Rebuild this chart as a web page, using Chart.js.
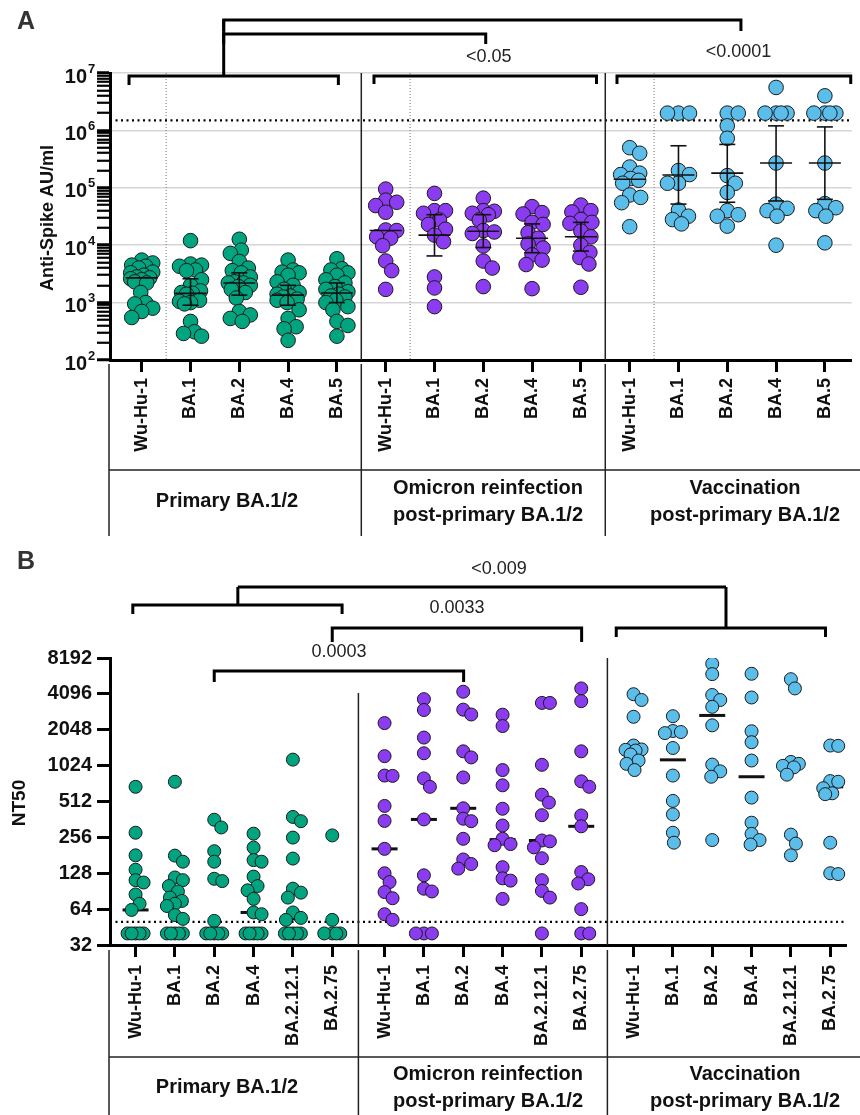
<!DOCTYPE html>
<html>
<head>
<meta charset="utf-8">
<script src="https://cdn.jsdelivr.net/npm/chart.js@4.4.0/dist/chart.umd.min.js"></script>
<style>
    body { margin: 0; background: #fff; }
    #wrap { position: relative; width: 860px; height: 1115px; overflow: hidden; }
    canvas { position: absolute; left: 0; }
</style>
</head>
<body>
<div id="wrap">
    <canvas id="chartA" width="860" height="545" style="top:0"></canvas>
    <canvas id="chartB" width="860" height="570" style="top:545px"></canvas>
</div>
<script>
// Categories
const variantsA = ['Wu-Hu-1', 'BA.1', 'BA.2', 'BA.4', 'BA.5'];
const variantsB = ['Wu-Hu-1', 'BA.1', 'BA.2', 'BA.4', 'BA.2.12.1', 'BA.2.75'];
const cohortLabels = [['Primary BA.1/2'], ['Omicron reinfection', 'post-primary BA.1/2'], ['Vaccination', 'post-primary BA.1/2']];
const cohortColors = ['#00a47f', '#8b3cf0', '#5bbdea'];

// Panel A - Anti-Spike AU/ml, one list per variant
const primaryA = [
    [5500, 4900, 4500, 4300, 4000, 3400, 3300, 3000, 2800, 2700, 2600, 2500, 2300, 2200, 1500, 1000, 950, 800, 700, 550],
    [12000, 4700, 4500, 4300, 3700, 3600, 2500, 2000, 1600, 1500, 1450, 1400, 1100, 1050, 1000, 950, 470, 310, 290, 260],
    [12700, 8200, 7200, 5200, 4000, 3600, 3300, 2800, 2300, 2200, 2200, 2000, 1900, 1700, 1500, 1200, 700, 610, 530, 470],
    [5500, 3700, 3400, 3300, 3000, 2300, 2000, 1700, 1500, 1400, 1300, 1250, 1150, 1100, 1000, 750, 530, 380, 350, 220],
    [5800, 3900, 3700, 3300, 3000, 2500, 2200, 1900, 1700, 1550, 1400, 1300, 1250, 1100, 1000, 850, 750, 470, 400, 260]
];
const reinfectionA = [
    [95000, 61000, 56000, 49000, 37500, 18400, 18000, 14000, 13300, 9800, 5300, 3600, 1700],
    [80000, 40000, 40000, 36000, 27500, 23000, 19000, 15000, 11500, 2800, 1800, 850],
    [66000, 40000, 39000, 36000, 34000, 27500, 18000, 17000, 16000, 9700, 5300, 4000, 1900],
    [47000, 37000, 35000, 25000, 23000, 16500, 13200, 10500, 8900, 6800, 5500, 4600, 1750],
    [50000, 40000, 38000, 28000, 25000, 24000, 17600, 14000, 10000, 7500, 6100, 4700, 1850]
];
const vaccinationA = [
    [500000, 400000, 230000, 180000, 170000, 145000, 135000, 120000, 75000, 68000, 55000, 21000],
    [2000000, 2000000, 2000000, 200000, 170000, 120000, 120000, 41000, 32000, 28000, 23500],
    [2000000, 2000000, 1200000, 730000, 163000, 120000, 83000, 40000, 34000, 32000, 21500],
    [5600000, 2000000, 2000000, 2000000, 2000000, 270000, 52000, 44000, 40000, 32000, 10000],
    [4000000, 2000000, 2000000, 2000000, 2000000, 270000, 53000, 45000, 40000, 32000, 11000]
];
// median and interquartile range, 15 groups in plot order
const medianA = [2700, 1450, 2200, 1350, 1470, 18000, 15000, 17500, 13200, 14000, 141000, 167000, 180000, 270000, 270000];
const q1A = [null, 900, 1350, 900, 1000, null, 6500, 9100, 7400, 7900, null, 52000, 56000, 59000, 63000];
const q3A = [null, 2600, 3300, 2000, 2200, null, 34000, 34000, 23500, 25000, null, 540000, 570000, 1200000, 1150000];

// Panel B - NT50
const primaryB = [
    [680, 280, 181, 137, 112, 107, 85, 71, 63, 40, 40, 40, 40, 40],
    [750, 180, 160, 118, 112, 100, 90, 80, 75, 71, 68, 57, 53, 40, 40, 40, 40, 40],
    [360, 310, 196, 160, 115, 110, 51, 40, 40, 40, 40, 40],
    [275, 210, 165, 160, 120, 100, 92, 78, 60, 58, 40, 40, 40, 40, 40],
    [1150, 380, 350, 255, 170, 95, 88, 80, 60, 54, 52, 40, 40, 40, 40, 40],
    [266, 52, 40, 40, 40, 40]
];
const reinfectionB = [
    [2330, 1230, 845, 840, 470, 352, 205, 128, 108, 89, 79, 58, 52],
    [3700, 3000, 1760, 1300, 800, 680, 362, 123, 95, 90, 40, 40, 40],
    [4270, 3020, 2750, 1350, 1200, 815, 449, 367, 350, 249, 167, 153, 140],
    [2740, 2200, 940, 700, 445, 322, 249, 225, 220, 144, 116, 111, 78],
    [3440, 3440, 1040, 584, 502, 393, 241, 237, 211, 171, 112, 91, 80, 40],
    [4550, 3560, 1350, 756, 680, 391, 317, 131, 114, 105, 64, 40, 40]
];
const vaccinationB = [
    [4070, 3640, 2630, 1510, 1400, 1390, 1370, 1270, 1130, 1060, 940],
    [2660, 2000, 1960, 1920, 1440, 845, 518, 399, 280, 231],
    [7330, 6000, 4010, 3640, 3190, 2230, 1045, 917, 826, 243],
    [6040, 3820, 1990, 1610, 1130, 552, 340, 274, 243, 223],
    [5440, 4550, 1100, 1060, 1020, 990, 860, 270, 227, 181],
    [1510, 1500, 760, 750, 662, 600, 590, 231, 128, 126]
];
const medianB = [63, 71, 40, 60, 53, 40, 205, 362, 449, 245, 241, 317, 1390, 1145, 2700, 826, 1030, 680];

// Axis ticks, cut-offs and p values
const ticksA = [1e2, 1e3, 1e4, 1e5, 1e6, 1e7];
const ticksB = [32, 64, 128, 256, 512, 1024, 2048, 4096, 8192];
const cutoffA = 1.5e6;
const cutoffB = 50;
const pLabelsA = ['<0.05', '<0.0001'];
const pLabelsB = ['<0.009', '0.0033', '0.0003'];

const FONT = "'Liberation Sans', Arial, Helvetica, sans-serif";
const gapB = 0.33;
const posA = (g, i) => g * 5 + i;
const posB = (g, i) => g * (6 + gapB) + i;

function line(ctx, x1, y1, x2, y2) {
    ctx.beginPath();
    ctx.moveTo(x1, y1);
    ctx.lineTo(x2, y2);
    ctx.stroke();
}

function bracket(ctx, x1, x2, y, yEnd) {
    ctx.beginPath();
    ctx.moveTo(x1, yEnd);
    ctx.lineTo(x1, y);
    ctx.lineTo(x2, y);
    ctx.lineTo(x2, yEnd);
    ctx.stroke();
}

function drawTable(ctx, xs, yTop, yLine, yBottom, textY) {
    ctx.save();
    ctx.strokeStyle = '#222';
    ctx.lineWidth = 1.5;
    line(ctx, 109, yLine, 860, yLine);
    [109, ...xs].forEach(px => line(ctx, px, yTop, px, yBottom));
    ctx.fillStyle = '#111';
    ctx.font = 'bold 20px ' + FONT;
    ctx.textAlign = 'center';
    ctx.textBaseline = 'middle';
    const centers = [227, 488, 745];
    cohortLabels.forEach((lines, g) => {
        if (lines.length === 1) {
            ctx.fillText(lines[0], centers[g], textY);
        } else {
            ctx.fillText(lines[0], centers[g], textY - 13);
            ctx.fillText(lines[1], centers[g], textY + 14);
        }
    });
    ctx.restore();
}

function rotatedText(ctx, text, x, y, font) {
    ctx.save();
    ctx.translate(x, y);
    ctx.rotate(-Math.PI / 2);
    ctx.font = font;
    ctx.fillStyle = '#111';
    ctx.textAlign = 'center';
    ctx.textBaseline = 'middle';
    ctx.fillText(text, 0, 0);
    ctx.restore();
}

function buildSets(groups, pos, radius) {
    return groups.map((grp, g) => ({
        data: grp.flatMap((vals, i) => vals.map(v => ({ x: pos(g, i), y: v, c: pos(g, i) }))),
        backgroundColor: cohortColors[g],
        borderColor: '#1a1a1a',
        borderWidth: 1,
        pointRadius: radius,
        pointHoverRadius: radius
    }));
}

// Spread points of the same column sideways so they do not pile up (beeswarm)
function swarm(chart, minDist, maxOff) {
    const xs = chart.scales.x, ys = chart.scales.y;
    const unit = xs.getPixelForValue(1) - xs.getPixelForValue(0);
    chart.data.datasets.forEach(ds => {
        const cols = {};
        ds.data.forEach(p => (cols[p.c] = cols[p.c] || []).push(p));
        Object.values(cols).forEach(pts => {
            const placed = [];
            pts.slice().sort((a, b) => b.y - a.y).forEach(p => {
                const py = ys.getPixelForValue(p.y);
                let best = 0, bestGap = -Infinity;
                for (let k = 0; k <= maxOff * 2; k++) {
                    const off = (k % 2 ? 1 : -1) * Math.ceil(k / 2);
                    let gap = Infinity;
                    placed.forEach(q => { gap = Math.min(gap, Math.hypot(off - q.off, py - q.py)); });
                    if (gap >= minDist) { best = off; bestGap = gap; break; }
                    if (gap > bestGap) { bestGap = gap; best = off; }
                }
                placed.push({ off: best, py });
                p.x = p.c + best / unit;
            });
        });
    });
    chart.update('none');
}

const isPow10 = v => Math.abs(Math.log10(v) - Math.round(Math.log10(v))) < 1e-9;

// Panel A decorations
const panelAPlugin = {
    id: 'panelA',
    beforeDatasetsDraw(chart) {
        const { ctx, chartArea: a, scales: { x, y } } = chart;
        ctx.save();
        ctx.strokeStyle = '#777';
        ctx.lineWidth = 1;
        ctx.setLineDash([1, 2]);
        [0, 1, 2].forEach(g => {
            const px = x.getPixelForValue(posA(g, 0.5));
            line(ctx, px, a.top, px, a.bottom);
        });
        ctx.strokeStyle = '#000';
        ctx.lineWidth = 2.2;
        ctx.setLineDash([2, 3.5]);
        const cy = y.getPixelForValue(cutoffA);
        line(ctx, a.left, cy, a.right, cy);
        ctx.setLineDash([]);
        ctx.strokeStyle = '#222';
        ctx.lineWidth = 1.5;
        [4.5, 9.5].forEach(v => {
            const px = x.getPixelForValue(v);
            line(ctx, px, a.top, px, a.bottom);
        });
        ctx.restore();
    },
    afterDatasetsDraw(chart) {
        const { ctx, scales: { x, y } } = chart;
        ctx.save();
        ctx.strokeStyle = '#111';
        ctx.lineWidth = 1.6;
        medianA.forEach((m, k) => {
            const px = x.getPixelForValue(posA(Math.floor(k / 5), k % 5));
            const pm = y.getPixelForValue(m);
            line(ctx, px - 16, pm, px + 16, pm);
            if (q1A[k] == null) return;
            const p1 = y.getPixelForValue(q1A[k]);
            const p3 = y.getPixelForValue(q3A[k]);
            line(ctx, px, p1, px, p3);
            line(ctx, px - 8, p1, px + 8, p1);
            line(ctx, px - 8, p3, px + 8, p3);
        });
        ctx.restore();
    },
    afterDraw(chart) {
        const { ctx, scales: { x, y } } = chart;
        const X = v => x.getPixelForValue(v);
        ctx.save();
        // y tick labels 10^n
        ctx.fillStyle = '#111';
        ticksA.forEach(t => {
            const py = y.getPixelForValue(t);
            ctx.font = 'bold 20px ' + FONT;
            ctx.textAlign = 'right';
            ctx.textBaseline = 'middle';
            ctx.fillText('10', 87, py + 4);
            ctx.font = 'bold 13px ' + FONT;
            ctx.textAlign = 'left';
            ctx.fillText(String(Math.round(Math.log10(t))), 88, py - 4);
        });
        ctx.restore();

        rotatedText(ctx, 'Anti-Spike AU/ml', 48, 218, 'bold 18px ' + FONT);

        ctx.save();
        ctx.fillStyle = '#333';
        ctx.font = 'bold 25px ' + FONT;
        ctx.textAlign = 'center';
        ctx.textBaseline = 'middle';
        ctx.fillText('A', 26, 22);

        // comparison brackets
        ctx.strokeStyle = '#000';
        ctx.lineWidth = 3;
        bracket(ctx, X(-0.26), X(4.03), 76, 85);
        bracket(ctx, X(4.76), X(9.32), 76, 84);
        bracket(ctx, X(9.74), X(14.53), 76, 84);
        line(ctx, X(1.68), 77, X(1.68), 20);
        bracket(ctx, X(1.68), X(7.05), 34, 44);
        bracket(ctx, X(1.68), X(12.28), 20, 31);
        ctx.fillStyle = '#222';
        ctx.font = '18px ' + FONT;
        ctx.fillText(pLabelsA[0], X(7.11), 57);
        ctx.fillText(pLabelsA[1], X(12.23), 52);
        ctx.restore();

        drawTable(ctx, [X(4.5), X(9.5)], 364, 470, 536, 501);
    }
};

// Panel B decorations
const panelBPlugin = {
    id: 'panelB',
    beforeDatasetsDraw(chart) {
        const { ctx, chartArea: a, scales: { x, y } } = chart;
        ctx.save();
        ctx.strokeStyle = '#000';
        ctx.lineWidth = 2.2;
        ctx.setLineDash([2, 3.5]);
        const cy = y.getPixelForValue(cutoffB);
        line(ctx, a.left, cy, a.right, cy);
        ctx.setLineDash([]);
        ctx.strokeStyle = '#222';
        ctx.lineWidth = 1.5;
        const s1 = x.getPixelForValue(posB(1, -0.5 - gapB / 2));
        const s2 = x.getPixelForValue(posB(2, -0.5 - gapB / 2));
        line(ctx, s1, 148, s1, a.bottom);
        line(ctx, s2, a.top, s2, a.bottom);
        // medians sit behind the points
        ctx.strokeStyle = '#111';
        ctx.lineWidth = 3;
        medianB.forEach((m, k) => {
            const px = x.getPixelForValue(posB(Math.floor(k / 6), k % 6));
            const pm = y.getPixelForValue(m);
            line(ctx, px - 13, pm, px + 13, pm);
        });
        ctx.restore();
    },
    afterDraw(chart) {
        const { ctx, scales: { x } } = chart;
        const X = v => x.getPixelForValue(v);
        rotatedText(ctx, 'NT50', 20, 258, 'bold 19px ' + FONT);

        ctx.save();
        ctx.fillStyle = '#333';
        ctx.font = 'bold 25px ' + FONT;
        ctx.textAlign = 'center';
        ctx.textBaseline = 'middle';
        ctx.fillText('B', 26, 17);

        ctx.strokeStyle = '#000';
        ctx.lineWidth = 3;
        bracket(ctx, X(-0.07), X(5.25), 60, 69);
        line(ctx, X(2.6), 61, X(2.6), 42);
        line(ctx, X(2.6), 42, X(15.01), 42);
        line(ctx, X(15.01), 42, X(15.01), 84);
        bracket(ctx, X(5.0), X(11.34), 83, 97);
        bracket(ctx, X(12.22), X(17.54), 83, 92);
        bracket(ctx, X(2.0), X(8.34), 126, 137);
        ctx.fillStyle = '#222';
        ctx.font = '18px ' + FONT;
        ctx.fillText(pLabelsB[0], X(9.24), 24);
        ctx.fillText(pLabelsB[1], X(8.17), 63);
        ctx.fillText(pLabelsB[2], X(5.17), 107);
        ctx.restore();

        drawTable(ctx, [X(posB(1, -0.5 - gapB / 2)), X(posB(2, -0.5 - gapB / 2))], 405, 512, 570, 542);
    }
};

const tickFont = { family: FONT, size: 18, weight: 'bold' };

const chartA = new Chart(document.getElementById('chartA'), {
    type: 'scatter',
    data: { datasets: buildSets([primaryA, reinfectionA, vaccinationA], posA, 7.3) },
    options: {
        responsive: false,
        animation: false,
        layout: { padding: { top: 73, left: 0, right: 0, bottom: 0 } },
        plugins: { legend: { display: false }, tooltip: { enabled: false } },
        scales: {
            x: {
                type: 'linear',
                min: -0.65,
                max: 14.55,
                afterBuildTicks: s => { s.ticks = [0, 1, 2].flatMap(g => variantsA.map((_, i) => ({ value: posA(g, i) }))); },
                afterFit: s => { s.height = 185; },
                ticks: {
                    autoSkip: false, minRotation: 90, maxRotation: 90, padding: 6, color: '#111', font: tickFont,
                    callback: (v, i) => variantsA[i % variantsA.length]
                },
                grid: { drawOnChartArea: false, tickLength: 12, tickWidth: 3, tickColor: '#000' },
                border: { color: '#000', width: 3 }
            },
            y: {
                type: 'logarithmic',
                min: 1e2,
                max: 1e7,
                afterBuildTicks: s => {
                    const t = [];
                    for (let e = 2; e < 7; e++) for (let m = 1; m < 10; m++) t.push({ value: m * Math.pow(10, e) });
                    t.push({ value: 1e7 });
                    s.ticks = t;
                },
                afterFit: s => { s.width = 110; },
                ticks: { autoSkip: false, callback: () => '' },
                grid: {
                    color: c => (c.tick && isPow10(c.tick.value)) ? '#d6d6d6' : 'rgba(0,0,0,0)',
                    lineWidth: 1.5,
                    tickLength: 13,
                    tickWidth: c => (c.tick && isPow10(c.tick.value)) ? 3 : 2.2,
                    tickColor: '#000'
                },
                border: { color: '#000', width: 3 }
            }
        }
    },
    plugins: [panelAPlugin]
});

const chartB = new Chart(document.getElementById('chartB'), {
    type: 'scatter',
    data: { datasets: buildSets([primaryB, reinfectionB, vaccinationB], posB, 6.5) },
    options: {
        responsive: false,
        animation: false,
        layout: { padding: { top: 113, left: 0, right: 0, bottom: 0 } },
        plugins: { legend: { display: false }, tooltip: { enabled: false } },
        scales: {
            x: {
                type: 'linear',
                min: -0.65,
                max: 18.08,
                afterBuildTicks: s => { s.ticks = [0, 1, 2].flatMap(g => variantsB.map((_, i) => ({ value: posB(g, i) }))); },
                afterFit: s => { s.height = 170; },
                ticks: {
                    autoSkip: false, minRotation: 90, maxRotation: 90, padding: 8, color: '#111', font: tickFont,
                    callback: (v, i) => variantsB[i % variantsB.length]
                },
                grid: { drawOnChartArea: false, tickLength: 12, tickWidth: 3, tickColor: '#000' },
                border: { color: '#000', width: 3 }
            },
            y: {
                type: 'logarithmic',
                min: 32,
                max: 8192,
                afterBuildTicks: s => { s.ticks = ticksB.map(v => ({ value: v })); },
                afterFit: s => { s.width = 110; },
                ticks: { autoSkip: false, padding: 5, color: '#111', font: { family: FONT, size: 20, weight: 'bold' }, callback: v => String(v) },
                grid: { drawOnChartArea: false, tickLength: 13, tickWidth: 3, tickColor: '#000' },
                border: { color: '#000', width: 3 }
            }
        }
    },
    plugins: [panelBPlugin]
});

swarm(chartA, 11, 11);
swarm(chartB, 10, 8);
</script>
</body>
</html>
